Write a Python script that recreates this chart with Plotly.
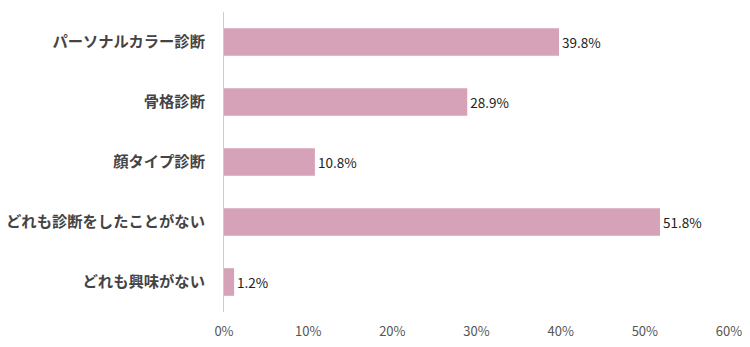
import plotly.graph_objects as go

categories = ["パーソナルカラー診断", "骨格診断", "顔タイプ診断", "どれも診断をしたことがない", "どれも興味がない"]
values = [39.8, 28.9, 10.8, 51.8, 1.2]
tick_vals = [0, 10, 20, 30, 40, 50, 60]
tick_text = ["0%", "10%", "20%", "30%", "40%", "50%", "60%"]

fig = go.Figure(go.Bar(
    y=categories, x=values, orientation="h",
    marker=dict(color="#D5A2B7", line=dict(width=0)),
    width=0.46,
    text=[f"{v:.1f}%" for v in values],
    textposition="outside",
    textfont=dict(family="Noto Sans CJK JP", size=13.5, color="#222222"),
    cliponaxis=False,
))

fig.update_layout(
    width=750, height=347,
    margin=dict(l=224, r=21, t=12, b=35),
    paper_bgcolor="white", plot_bgcolor="white",
    showlegend=False,
    font=dict(family="Noto Sans CJK JP"),
)
fig.update_xaxes(
    range=[0, 60], tickvals=tick_vals, ticktext=tick_text,
    showgrid=False, zeroline=False, showline=False,
    tickfont=dict(size=13, color="#555555"),
    ticklabelstandoff=10,
    automargin=False,
)
fig.update_yaxes(
    categoryorder="array", categoryarray=categories[::-1],
    showgrid=False, zeroline=False,
    showline=True, linecolor="#CCCCCC", linewidth=1,
    tickfont=dict(size=15.3, color="#444444", family="Noto Sans CJK JP", weight="bold"),
    ticklabelstandoff=15,
    automargin=False,
)
fig.write_html("out.html")
